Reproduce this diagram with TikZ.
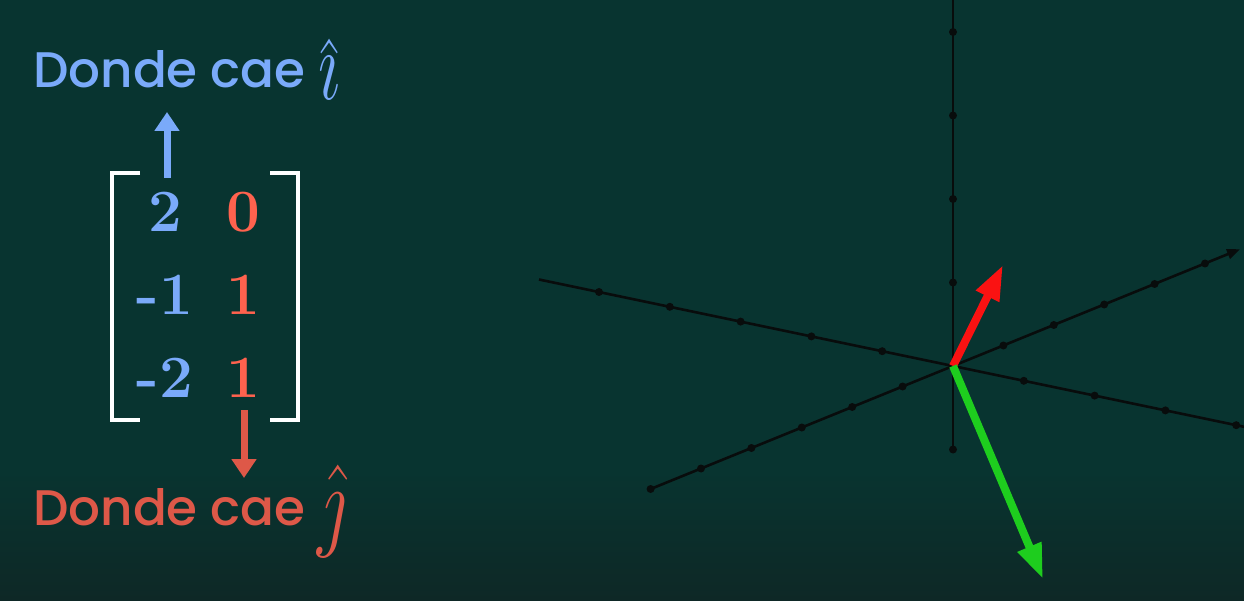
\RequirePackage{fix-cm}
\documentclass[tikz,border=0pt]{standalone}
\usepackage{fontspec}
\usepackage{graphicx}
\newfontfamily\titlefont{Poppins Medium}
\usetikzlibrary{arrows.meta}
\definecolor{bgteal}{RGB}{8,52,48}
\definecolor{bgbottom}{RGB}{14,40,38}
\definecolor{iblue}{RGB}{122,170,250}
\definecolor{jred}{RGB}{222,88,72}
\definecolor{numred}{RGB}{255,98,78}
\definecolor{axisblack}{RGB}{8,12,12}
\definecolor{vecred}{RGB}{250,18,18}
\definecolor{vecgreen}{RGB}{30,205,30}
\tikzset{
  axisline/.style={draw=axisblack,line width=2.6pt},
  tickdot/.style={fill=axisblack},
  caption/.style={font=\titlefont\fontsize{50}{60}\selectfont,inner sep=0pt,anchor=base west},
  hatvec/.style={inner sep=0pt,anchor=base west},
  entry/.style={font=\fontsize{60}{60}\selectfont\bfseries,inner sep=0pt,anchor=base},
  bracket/.style={draw=white,line width=3.5pt},
  pointer/.style={line width=7pt,-{Triangle[length=19pt,width=24pt]}},
  basisvec/.style={line width=8pt,-{Triangle[length=35pt,width=24pt]}},
}
\begin{document}
\begin{tikzpicture}[x=1pt,y=-1pt]
  \useasboundingbox (0,0) rectangle (1244,601);
  \fill[bgteal] (0,0) rectangle (1244,601);
  \shade[top color=bgteal,bottom color=bgbottom] (0,470) rectangle (1244,601);
  % labels
  \node[caption,text=iblue] (itext) at (33,88) {Donde cae};
  \node[hatvec,text=iblue,font=\fontsize{100}{100}\selectfont] (ihat) at (318,100)
    {\scalebox{0.7}[1]{\rlap{\raisebox{-9pt}{$\hat{\phantom{\imath}}$}}$\imath$}};
  \node[caption,text=jred] (jtext) at (33,525) {Donde cae};
  \node[hatvec,text=jred,font=\fontsize{103}{103}\selectfont] (jhat) at (317,537) {\scalebox{0.75}[1]{$\hat{\jmath}$}};
  % matrix
  \node[entry,text=iblue] (a11) at (165,232) {2};
  \node[entry,text=iblue] (a21) at (165,315) {-1};
  \node[entry,text=iblue] (a31) at (165,397) {-2};
  \node[entry,text=numred] (a12) at (243,232) {0};
  \node[entry,text=numred] (a22) at (243,315) {1};
  \node[entry,text=numred] (a32) at (243,397) {1};
  \draw[bracket] (140,173) -- (112,173) -- (112,420) -- (140,420);
  \draw[bracket] (270,173) -- (298,173) -- (298,420) -- (270,420);
  \coordinate (ifoot) at (167,178);
  \coordinate (itip) at (167,112);
  \coordinate (jfoot) at (244,410);
  \coordinate (jtip) at (244,478);
  \draw[pointer,iblue] (ifoot) -- (itip);
  \draw[pointer,jred] (jfoot) -- (jtip);
  % axes
  \coordinate (O) at (953,366);
  \draw[axisline] (539,279.5) -- (1244,426.8);
  \draw[axisline,-{Triangle[length=13pt,width=10pt]}] (650.6,489) -- (1240,249.2);
  \draw[axisline] (953,0) -- (953,450);
  \foreach \k in {-5,-4,-3,-2,-1,1,2,3,4}
    \fill[tickdot] ([shift={(\k*70.8,\k*14.8)}]O) circle (4pt);
  \foreach \k in {-6,-5,-4,-3,-2,-1,1,2,3,4,5}
    \fill[tickdot] ([shift={(\k*50.4,-\k*20.5)}]O) circle (4pt);
  \foreach \k in {-4,-3,-2,-1,1}
    \fill[tickdot] ([shift={(0,\k*83.5)}]O) circle (4pt);
  % basis vectors
  \coordinate (redtip) at (1003,265);
  \coordinate (greentip) at (1043,579);
  \draw[basisvec,vecred] (O) -- (redtip);
  \draw[basisvec,vecgreen] (O) -- (greentip);
\end{tikzpicture}
\end{document}
